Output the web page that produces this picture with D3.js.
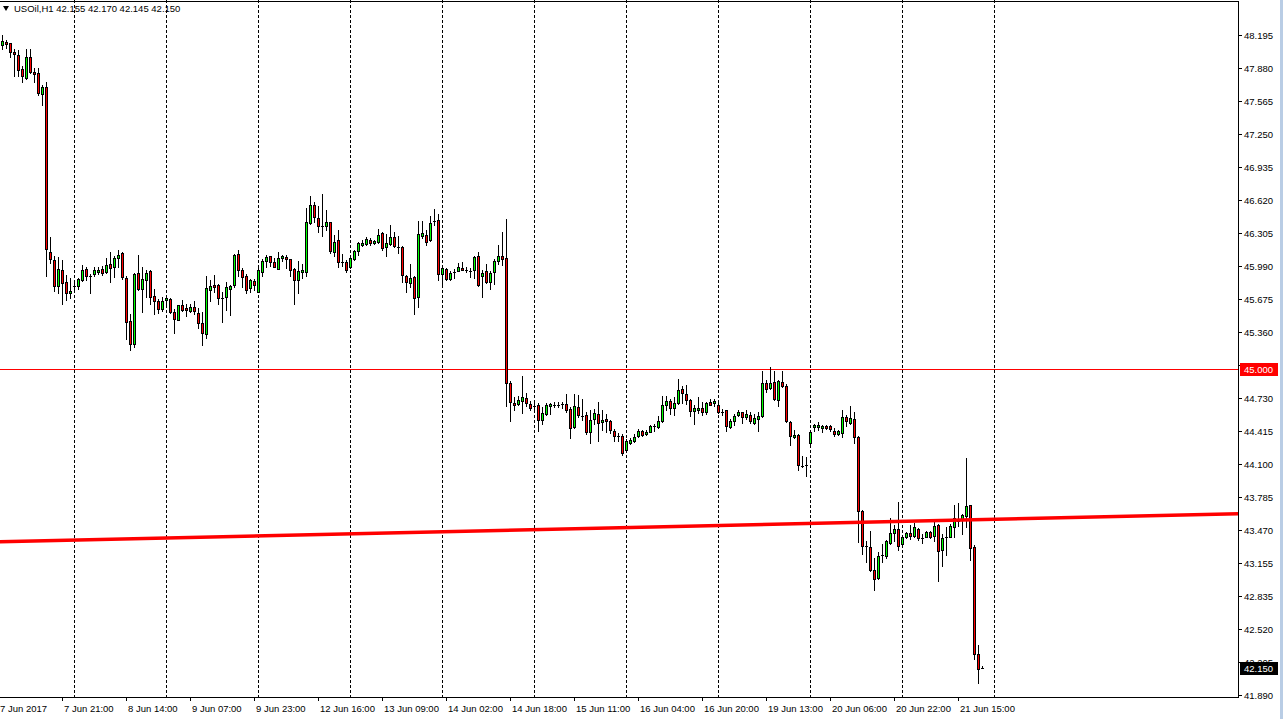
<!DOCTYPE html>
<html>
<head>
<meta charset="utf-8">
<title>USOil,H1</title>
<script src="https://d3js.org/d3.v7.min.js"></script>
<style>
  body { margin: 0; background: #fff; overflow: hidden; }
  svg text { font-family: "Liberation Sans", Arial, sans-serif; font-size: 9.5px; fill: #000; }
</style>
</head>
<body>
<script>
var width = 1283, height = 719;
var plotRight = 1238, plotBottom = 697;

// hourly candles, one row per bar: [open, high, low, close]
var candles = [
  [48.096,48.192,48.064,48.135],[48.125,48.147,48.068,48.106],[48.115,48.115,47.988,48.029],[48.033,48.058,47.806,48.010],
  [48.001,48.052,47.803,47.857],[47.867,47.899,47.742,47.800],[47.787,48.061,47.777,47.988],[47.981,48.061,47.828,47.838],
  [47.841,47.883,47.749,47.825],[47.828,47.876,47.618,47.637],[47.628,47.717,47.529,47.694],[47.694,47.742,45.893,46.151],
  [46.126,46.263,46.020,46.055],[46.049,46.087,45.752,45.797],[45.797,46.078,45.730,45.963],[45.953,46.043,45.625,45.829],
  [45.838,45.899,45.666,45.733],[45.730,45.877,45.682,45.752],[45.787,45.826,45.740,45.800],[45.794,45.870,45.771,45.861],
  [45.858,46.001,45.848,45.953],[45.960,45.982,45.858,45.893],[45.906,45.912,45.727,45.893],[45.915,45.976,45.896,45.947],
  [45.934,45.982,45.915,45.947],[45.956,45.988,45.902,45.918],[45.934,46.062,45.925,46.001],[46.011,46.119,45.835,45.972],
  [45.979,46.084,45.880,46.068],[46.065,46.138,45.979,46.097],[46.110,46.119,45.867,45.883],[45.877,45.890,45.293,45.453],
  [45.465,45.526,45.182,45.245],[45.245,45.921,45.214,45.915],[45.925,46.090,45.762,45.771],[45.771,45.976,45.548,45.861],
  [45.851,45.950,45.692,45.925],[45.937,45.950,45.628,45.695],[45.698,45.765,45.532,45.657],[45.654,45.676,45.539,45.580],
  [45.577,45.692,45.555,45.657],[45.666,45.701,45.619,45.679],[45.676,45.685,45.538,45.548],[45.551,45.574,45.347,45.481],
  [45.475,45.618,45.468,45.618],[45.618,45.660,45.554,45.570],[45.583,45.628,45.507,45.570],[45.561,45.621,45.545,45.593],
  [45.593,45.650,45.529,45.554],[45.542,45.583,45.395,45.446],[45.446,45.545,45.232,45.350],[45.341,45.889,45.296,45.774],
  [45.762,45.851,45.650,45.800],[45.803,45.899,45.739,45.787],[45.803,45.813,45.625,45.685],[45.691,45.739,45.449,45.682],
  [45.695,45.832,45.570,45.784],[45.771,45.806,45.516,45.800],[45.803,46.100,45.787,46.090],[46.100,46.138,45.896,45.953],
  [45.953,45.969,45.787,45.886],[45.896,45.915,45.730,45.762],[45.774,45.864,45.739,45.851],[45.841,45.864,45.762,45.806],
  [45.743,45.991,45.743,45.947],[45.934,46.058,45.889,46.033],[46.036,46.097,45.979,46.077],[46.087,46.087,45.985,46.030],
  [46.023,46.065,45.975,45.982],[45.963,46.119,45.956,46.065],[46.065,46.090,46.036,46.081],[46.077,46.093,45.972,46.055],
  [46.052,46.058,45.896,45.953],[45.963,45.969,45.628,45.851],[45.851,46.033,45.730,45.943],[45.934,46.004,45.876,45.947],
  [45.934,46.546,45.896,46.412],[46.403,46.655,46.387,46.568],[46.575,46.600,46.409,46.457],[46.451,46.559,46.317,46.371],
  [46.380,46.674,46.278,46.371],[46.374,46.521,46.336,46.406],[46.412,46.412,46.112,46.132],[46.125,46.282,46.084,46.221],
  [46.234,46.329,45.979,46.026],[46.039,46.106,45.985,46.026],[46.030,46.049,45.934,45.950],[45.975,46.074,45.969,46.061],
  [46.055,46.138,46.042,46.135],[46.135,46.218,46.090,46.205],[46.189,46.234,46.183,46.208],[46.199,46.262,46.189,46.243],
  [46.240,46.259,46.192,46.208],[46.211,46.234,46.199,46.230],[46.218,46.339,46.211,46.288],[46.301,46.313,46.138,46.163],
  [46.170,46.297,46.081,46.211],[46.202,46.377,46.192,46.262],[46.269,46.313,46.170,46.179],[46.179,46.278,46.112,46.170],
  [46.173,46.179,45.832,45.902],[45.896,45.902,45.743,45.832],[45.829,46.010,45.787,45.876],[45.886,45.889,45.532,45.682],
  [45.692,46.419,45.596,46.297],[46.275,46.419,46.256,46.307],[46.288,46.336,46.186,46.215],[46.234,46.466,46.224,46.403],
  [46.409,46.530,46.377,46.422],[46.431,46.482,45.851,45.915],[45.915,45.985,45.797,45.972],[45.963,45.972,45.851,45.864],
  [45.867,45.937,45.857,45.924],[45.918,45.956,45.876,45.931],[45.943,46.014,45.937,45.982],[45.972,46.023,45.947,45.950],
  [45.959,45.979,45.934,45.950],[45.953,45.966,45.883,45.943],[45.947,46.087,45.876,46.077],[46.087,46.122,45.797,45.803],
  [45.892,45.947,45.692,45.924],[45.937,46.004,45.829,45.835],[45.832,45.937,45.771,45.924],[45.931,46.058,45.816,46.033],
  [46.036,46.192,46.010,46.084],[46.081,46.310,45.994,46.055],[46.068,46.441,44.649,44.872],[44.872,44.891,44.506,44.687],
  [44.684,44.735,44.608,44.662],[44.668,44.742,44.662,44.710],[44.700,44.933,44.582,44.738],[44.729,44.773,44.652,44.678],
  [44.671,44.694,44.614,44.633],[44.665,44.697,44.592,44.652],[44.665,44.678,44.416,44.518],[44.518,44.639,44.480,44.585],
  [44.576,44.678,44.569,44.662],[44.652,44.684,44.576,44.668],[44.656,44.687,44.639,44.665],[44.659,44.690,44.639,44.665],
  [44.681,44.687,44.633,44.671],[44.671,44.767,44.592,44.614],[44.624,44.639,44.343,44.442],[44.448,44.770,44.442,44.652],
  [44.646,44.757,44.544,44.566],[44.563,44.719,44.518,44.553],[44.569,44.592,44.384,44.403],[44.400,44.608,44.295,44.521],
  [44.528,44.624,44.480,44.585],[44.579,44.687,44.321,44.490],[44.499,44.617,44.423,44.518],[44.528,44.576,44.403,44.512],
  [44.509,44.518,44.391,44.423],[44.416,44.432,44.321,44.365],[44.378,44.391,44.321,44.362],[44.365,44.381,44.187,44.203],
  [44.231,44.340,44.219,44.314],[44.302,44.343,44.289,44.327],[44.321,44.384,44.308,44.359],[44.362,44.432,44.353,44.410],
  [44.416,44.426,44.365,44.375],[44.384,44.419,44.378,44.407],[44.403,44.467,44.400,44.461],[44.448,44.477,44.416,44.461],
  [44.448,44.553,44.442,44.512],[44.506,44.742,44.496,44.662],[44.659,44.751,44.608,44.700],[44.700,44.713,44.576,44.630],
  [44.630,44.735,44.566,44.681],[44.681,44.904,44.671,44.805],[44.818,44.840,44.684,44.777],[44.770,44.847,44.671,44.710],
  [44.710,44.719,44.560,44.601],[44.601,44.665,44.480,44.627],[44.608,44.735,44.582,44.636],[44.627,44.687,44.569,44.589],
  [44.589,44.687,44.576,44.681],[44.687,44.719,44.659,44.665],[44.684,44.719,44.655,44.697],[44.665,44.710,44.582,44.592],
  [44.598,44.624,44.569,44.589],[44.608,44.617,44.410,44.458],[44.448,44.525,44.439,44.512],[44.506,44.576,44.474,44.560],
  [44.569,44.608,44.560,44.589],[44.589,44.598,44.493,44.544],[44.544,44.608,44.522,44.579],[44.563,44.598,44.493,44.509],
  [44.493,44.576,44.480,44.534],[44.528,44.592,44.410,44.553],[44.553,44.984,44.550,44.866],[44.866,44.895,44.783,44.815],
  [44.825,45.022,44.815,44.872],[44.876,44.984,44.710,44.719],[44.710,44.895,44.655,44.885],[44.876,44.981,44.831,44.840],
  [44.840,44.863,44.496,44.506],[44.499,44.512,44.279,44.368],[44.356,44.423,44.346,44.378],[44.378,44.384,44.040,44.091],
  [44.088,44.177,44.066,44.075],[44.078,44.161,43.983,44.088],[44.298,44.413,44.289,44.407],[44.448,44.480,44.410,44.471],
  [44.451,44.502,44.423,44.467],[44.439,44.471,44.407,44.461],[44.461,44.471,44.432,44.442],[44.464,44.471,44.410,44.432],
  [44.413,44.439,44.368,44.384],[44.384,44.423,44.372,44.410],[44.394,44.608,44.353,44.550],[44.550,44.569,44.464,44.512],
  [44.490,44.655,44.480,44.538],[44.528,44.592,44.298,44.353],[44.359,44.365,43.354,43.644],[43.651,43.657,43.236,43.309],
  [43.322,43.364,43.156,43.309],[43.306,43.459,43.070,43.083],[43.083,43.198,42.895,42.997],[43.003,43.252,42.994,43.217],
  [43.217,43.332,43.156,43.230],[43.214,43.373,43.198,43.364],[43.341,43.580,43.332,43.437],[43.437,43.514,43.357,43.478],
  [43.478,43.730,43.278,43.309],[43.332,43.415,43.325,43.402],[43.396,43.450,43.386,43.440],[43.437,43.514,43.380,43.405],
  [43.411,43.529,43.402,43.498],[43.472,43.485,43.373,43.389],[43.396,43.427,43.338,43.386],[43.402,43.459,43.396,43.446],
  [43.450,43.459,43.392,43.402],[43.411,43.565,43.357,43.504],[43.513,43.523,42.981,43.262],[43.271,43.427,43.124,43.392],
  [43.392,43.491,43.230,43.402],[43.396,43.523,43.396,43.504],[43.491,43.708,43.402,43.580],[43.571,43.724,43.501,43.552],
  [43.558,43.622,43.424,43.609],[43.600,44.154,43.498,43.695],[43.705,43.705,43.182,43.290],[43.300,43.325,42.238,42.286],
  [42.279,42.369,42.008,42.142],[42.155,42.170,42.145,42.150]
];

// time axis labels, one every 16 bars (first one sits just before bar 0)
var timeLabels = ["7 Jun 2017", "7 Jun 21:00", "8 Jun 14:00", "9 Jun 07:00", "9 Jun 23:00",
  "12 Jun 16:00", "13 Jun 09:00", "14 Jun 02:00", "14 Jun 18:00", "15 Jun 11:00",
  "16 Jun 04:00", "16 Jun 20:00", "19 Jun 13:00", "20 Jun 06:00", "20 Jun 22:00", "21 Jun 15:00"];

var priceTicks = ["48.195", "47.880", "47.565", "47.250", "46.935", "46.620", "46.305", "45.990",
  "45.675", "45.360", "45.045", "44.730", "44.415", "44.100", "43.785", "43.470", "43.155",
  "42.835", "42.520", "42.205", "41.890"];

var levelPrice = 45.000;                 // thin horizontal level
var trendStart = [0, 43.355];            // [bar, price]
var trendEnd = [245, 43.567];
var symbol = "USOil,H1";

var svg = d3.select("body").append("svg")
  .attr("width", width)
  .attr("height", height);

svg.append("rect").attr("width", width).attr("height", height).attr("fill", "#fff");

var x = d3.scaleLinear().domain([0, 245]).range([2, 982]);
var y = d3.scaleLinear().domain([41.890, 48.195]).range([695, 35]);

svg.append("clipPath").attr("id", "plot")
  .append("rect").attr("x", 0).attr("y", 0).attr("width", plotRight).attr("height", plotBottom);

var plot = svg.append("g").attr("clip-path", "url(#plot)");

// vertical dashed grid every 23 bars
plot.selectAll("line.grid")
  .data(d3.range(18, 250, 23))
  .enter().append("line")
  .attr("class", "grid")
  .attr("x1", function(d) { return Math.round(x(d)) + 0.5; })
  .attr("x2", function(d) { return Math.round(x(d)) + 0.5; })
  .attr("y1", 0).attr("y2", plotBottom)
  .attr("stroke", "#000")
  .attr("stroke-dasharray", "3,2")
  .attr("shape-rendering", "crispEdges");

// 45.000 level, a 1px red band
plot.append("rect")
  .attr("x", 0).attr("width", plotRight)
  .attr("y", Math.round(y(levelPrice))).attr("height", 1)
  .attr("fill", "#ff0000");

// candles
var bars = plot.selectAll("g.candle")
  .data(candles)
  .enter().append("g")
  .attr("class", "candle");

bars.append("line")
  .attr("x1", function(d, i) { return Math.round(x(i)) + 0.5; })
  .attr("x2", function(d, i) { return Math.round(x(i)) + 0.5; })
  .attr("y1", function(d) { return Math.round(y(d[1])); })
  .attr("y2", function(d) { return Math.round(y(d[2])) + 1; })
  .attr("stroke", "#000")
  .attr("shape-rendering", "crispEdges");

bars.filter(function(d) { return Math.abs(Math.round(y(d[0])) - Math.round(y(d[3]))) >= 2; })
  .append("rect")
  .each(function(d) {
    var i = candles.indexOf(d);
    var top = Math.round(y(Math.max(d[0], d[3])));
    var bot = Math.round(y(Math.min(d[0], d[3])));
    d3.select(this)
      .attr("x", Math.round(x(i)) - 0.5)
      .attr("y", top + 0.5)
      .attr("width", 2)
      .attr("height", bot - top)
      .attr("fill", d[3] > d[0] ? "#00ff00" : "#ff0000");
  })
  .attr("stroke", "#000")
  .attr("shape-rendering", "crispEdges");

// doji-like bars: a short horizontal tick
bars.filter(function(d) { return Math.abs(Math.round(y(d[0])) - Math.round(y(d[3]))) < 2; })
  .append("line")
  .each(function(d) {
    var i = candles.indexOf(d);
    var cx = Math.round(x(i));
    var yy = Math.round(y(d[3])) + 0.5;
    d3.select(this).attr("x1", cx - 1).attr("x2", cx + 2).attr("y1", yy).attr("y2", yy);
  })
  .attr("stroke", "#000")
  .attr("stroke-width", 1.5)
  .attr("shape-rendering", "crispEdges");

// trendline, extended as a ray
var slope = (trendEnd[1] - trendStart[1]) / (trendEnd[0] - trendStart[0]);
var b0 = x.invert(0), b1 = x.invert(plotRight);
plot.append("line")
  .attr("x1", 0).attr("y1", y(trendStart[1] + slope * (b0 - trendStart[0])))
  .attr("x2", plotRight).attr("y2", y(trendStart[1] + slope * (b1 - trendStart[0])))
  .attr("stroke", "#ff0000")
  .attr("stroke-width", 3.5);

// frame
svg.append("line").attr("x1", 0).attr("x2", plotRight).attr("y1", 1.5).attr("y2", 1.5)
  .attr("stroke", "#000").attr("shape-rendering", "crispEdges");
svg.append("line").attr("x1", plotRight + 0.5).attr("x2", plotRight + 0.5).attr("y1", 1).attr("y2", plotBottom + 1)
  .attr("stroke", "#000").attr("shape-rendering", "crispEdges");
svg.append("line").attr("x1", 0).attr("x2", plotRight + 1).attr("y1", plotBottom + 0.5).attr("y2", plotBottom + 0.5)
  .attr("stroke", "#000").attr("shape-rendering", "crispEdges");

// price axis
var pAxis = svg.append("g");
pAxis.selectAll("line")
  .data(priceTicks)
  .enter().append("line")
  .attr("x1", plotRight).attr("x2", plotRight + 4)
  .attr("y1", function(d) { return Math.round(y(+d)) + 0.5; })
  .attr("y2", function(d) { return Math.round(y(+d)) + 0.5; })
  .attr("stroke", "#000")
  .attr("shape-rendering", "crispEdges");
pAxis.selectAll("text")
  .data(priceTicks)
  .enter().append("text")
  .attr("x", plotRight + 6)
  .attr("y", function(d) { return y(+d) + 4; })
  .text(function(d) { return d; });

// price boxes, drawn over the tick labels they cover
function priceBox(price, fill, label) {
  var cy = Math.round(y(price));
  svg.append("rect")
    .attr("x", plotRight + 2).attr("y", cy - 6)
    .attr("width", 38).attr("height", 13)
    .attr("fill", fill);
  svg.append("text")
    .attr("x", plotRight + 6).attr("y", cy + 4)
    .style("fill", "#fff")
    .text(label);
}
priceBox(levelPrice, "#ff0000", levelPrice.toFixed(3));
var last = candles[candles.length - 1];
priceBox(last[3], "#000", last[3].toFixed(3));

// time axis
var tAxis = svg.append("g");
tAxis.selectAll("line")
  .data(timeLabels)
  .enter().append("line")
  .attr("x1", function(d, i) { return Math.round(x(i * 16 - 1)) + 0.5; })
  .attr("x2", function(d, i) { return Math.round(x(i * 16 - 1)) + 0.5; })
  .attr("y1", plotBottom).attr("y2", plotBottom + 4)
  .attr("stroke", "#000")
  .attr("shape-rendering", "crispEdges");
tAxis.selectAll("text")
  .data(timeLabels)
  .enter().append("text")
  .attr("x", function(d, i) { return Math.round(x(i * 16 - 1)) + 2; })
  .attr("y", 712)
  .text(function(d) { return d; });

// header
svg.append("path")
  .attr("d", "M3,6 L9,6 L6,11 Z")
  .attr("fill", "#000");
svg.append("text")
  .attr("x", 14).attr("y", 12)
  .text(symbol + "  " + last.map(function(v) { return v.toFixed(3); }).join(" "));

// window edge
svg.append("rect").attr("x", 1280).attr("y", 0).attr("width", 3).attr("height", height).attr("fill", "#b9cde5");
</script>
</body>
</html>
